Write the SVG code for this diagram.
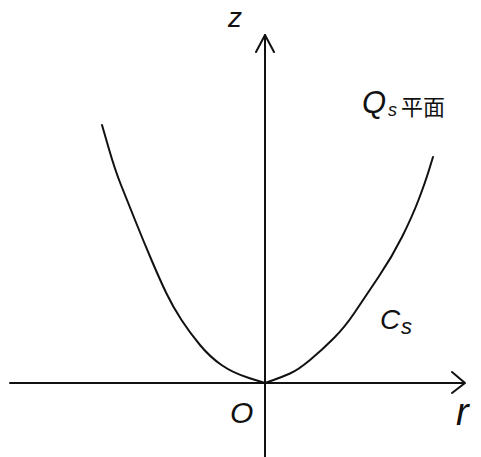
<svg xmlns="http://www.w3.org/2000/svg" width="481" height="457" viewBox="0 0 481 457">
<style>
.ax{fill:none;stroke:#111;stroke-width:2;stroke-linecap:round;stroke-linejoin:round}
.cv{fill:none;stroke:#111;stroke-width:2;stroke-linecap:round;stroke-linejoin:round}
.t{font-family:"Liberation Sans","Noto Sans CJK JP",sans-serif;fill:#111;font-style:italic}
.cjk{font-family:"Noto Sans CJK JP","Noto Sans CJK SC",sans-serif;fill:#111}
</style>
<rect width="481" height="457" fill="#fff"/>
<g id="axes">
<path class="ax" d="M10 383 L464 383"/>
<path class="ax" d="M452 372 L465 383 L452 393"/>
<path class="ax" d="M265 457 L265 35"/>
<path class="ax" d="M256 52 L265 35 L274 52"/>
</g>
<g id="curve">
<path class="cv" d="M102 125 L108.5 147.5 Q115 170 121 185 Q127 200 135 220 Q143 240 151.5 260 Q160 280 166.5 293.5 Q173 307 181.5 320 Q190 333 200 345 Q210 357 221.5 365 Q233 373 249 378 L265 383"/>
<path class="cv" d="M265 383 L273.5 380 Q282 377 290 373.5 Q298 370 310 360 Q322 350 333.5 338.5 Q345 327 355 312 Q365 297 378.5 277 Q392 257 402 237 Q412 217 418.5 200 Q425 183 429 170 L433 157"/>
</g>
<g id="labels">
<text class="t" x="228" y="27" font-size="28">z</text>
<text class="t" x="362" y="113" font-size="31">Q</text>
<text class="t" x="388" y="116" font-size="18">s</text>
<text class="cjk" x="401" y="115" font-size="22">平面</text>
<text class="t" x="380" y="329" font-size="28">C</text>
<text class="t" x="401" y="334" font-size="22">s</text>
<text class="t" x="230" y="423" font-size="30">O</text>
<text class="t" x="456" y="425" font-size="38">r</text>
</g>
</svg>
